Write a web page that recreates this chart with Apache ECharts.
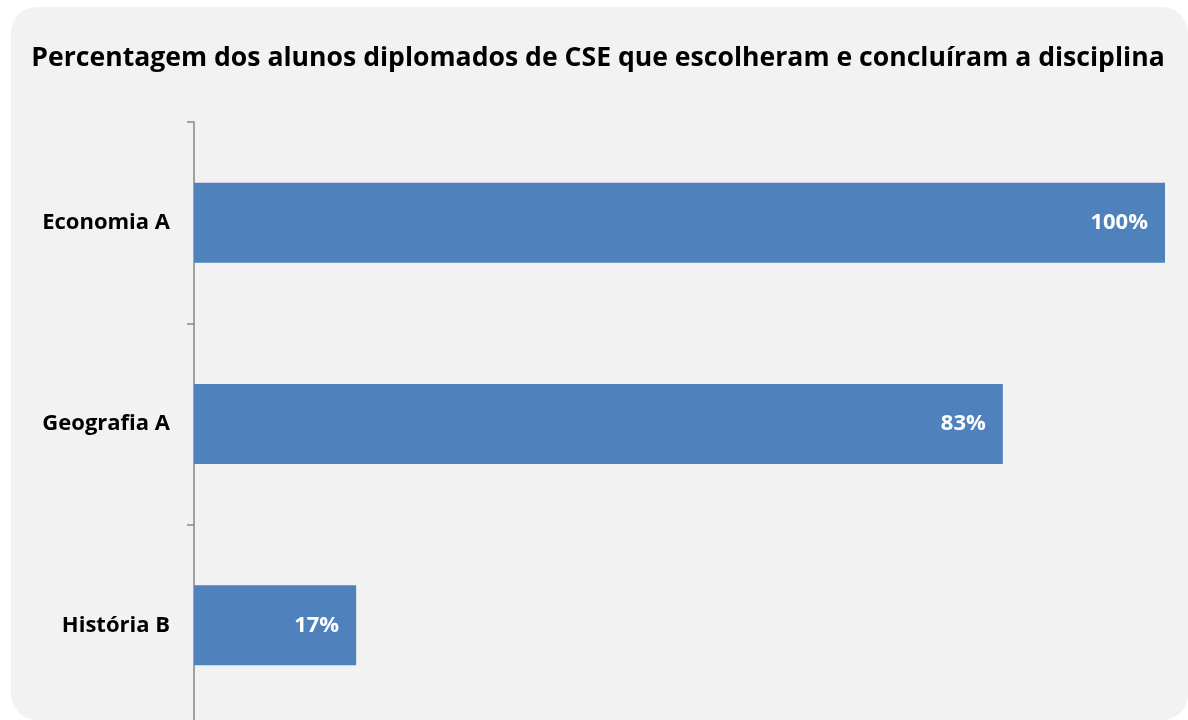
<!DOCTYPE html>
<html><head><meta charset="utf-8">
<style>html,body{margin:0;padding:0;background:#fff;overflow:hidden;height:720px}#c{width:1188px;height:730px}</style>
<script src="https://cdn.jsdelivr.net/npm/echarts@6/dist/echarts.min.js"></script>
</head><body><div id="c"></div>
<script>
const titleText = 'Percentagem dos alunos diplomados de CSE que escolheram e concluíram a disciplina';
const categories = ['Economia A', 'Geografia A', 'História B'];
const values = [100, 83.3, 16.7];
const FONT = 'Open Sans';
const chart = echarts.init(document.getElementById('c'));
chart.setOption({
  backgroundColor: '#ffffff',
  animation: false,
  graphic: [{type:'rect', z:-10, silent:true, shape:{x:11,y:7,width:1177,height:713,r:26}, style:{fill:'#f2f2f2'}}],
  title: {text: titleText, left: 593, textAlign:'center', top: 40,
    textStyle:{fontFamily:FONT, fontWeight:'bold', fontSize:26.6, color:'#000'}},
  grid: {left:194, top:122, width:971, height:604, containLabel:false},
  xAxis: {type:'value', min:0, max:100, show:false},
  yAxis: {type:'category', data: categories, inverse:true,
    axisLine:{show:true, lineStyle:{color:'#868686', width:1.5}},
    axisTick:{show:true, length:7, lineStyle:{color:'#868686', width:1.5}},
    axisLabel:{margin:24, fontFamily:FONT, fontWeight:'bold', fontSize:22, color:'#000'}},
  series: [{type:'bar', data: values, barWidth:80, itemStyle:{color:'#4f81bd'},
    label:{show:true, position:'insideRight', distance:17, formatter: p => Math.round(p.value) + '%', fontFamily:FONT, fontWeight:'bold', fontSize:22, color:'#fff'}}]
});
</script></body></html>
